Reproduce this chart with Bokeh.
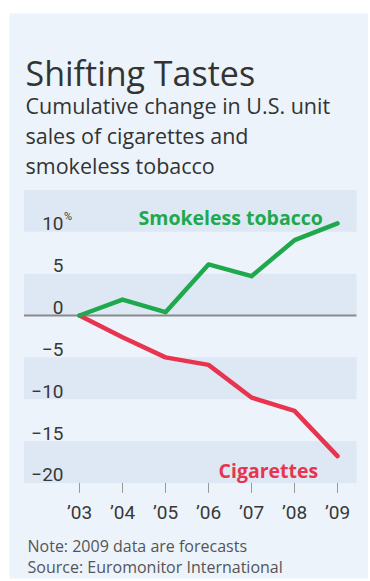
from bokeh.plotting import figure
from bokeh.models import Range1d
from bokeh.core.properties import value
from bokeh.embed import file_html
from bokeh.resources import INLINE

# ---- data ----
years = [2003, 2004, 2005, 2006, 2007, 2008, 2009]
year_labels = ["\u201903", "\u201904", "\u201905", "\u201906", "\u201907", "\u201908", "\u201909"]
smokeless = [0, 1.9, 0.4, 6.1, 4.7, 9.0, 11.0]
cigarettes = [0, -2.6, -5.0, -5.9, -9.8, -11.4, -16.8]
y_ticks = [-20, -15, -10, -5, 0, 5, 10]
y_tick_labels = ["\u221220", "\u221215", "\u221210", "\u22125", "0", "5", "10"]

title = "Shifting Tastes"
subtitle = ["Cumulative change in U.S. unit", "sales of cigarettes and", "smokeless tobacco"]
notes = ["Note: 2009 data are forecasts", "Source: Euromonitor International"]

# ---- style ----
GREEN = "#20a84d"
RED = "#e8344e"
PANEL = "#ecf3fb"
STRIPE = "#dde8f4"
TEXT = "#333333"
TICK_TEXT = "#383838"
TICKF = value("Roboto")
SANS = value("Open Sans")

W, H = 368, 579
PX_X0, PX_PER_YEAR = 79, 43.0
PX_Y0, PX_PER_UNIT = 315, 8.37


def dx(px):
    return years[0] + (px - PX_X0) / PX_PER_YEAR


def dy(py):
    return (PX_Y0 - py) / PX_PER_UNIT


def py_of(v):
    return PX_Y0 - v * PX_PER_UNIT


p = figure(width=W, height=H,
           x_range=Range1d(dx(0), dx(W)), y_range=Range1d(dy(H), dy(0)),
           x_axis_type=None, y_axis_type=None,
           output_backend="svg", toolbar_location=None,
           min_border=0, outline_line_color=None,
           background_fill_color="white", border_fill_color="white")

# panel
p.quad(left=[dx(9)], right=[dx(W + 10)], top=[dy(13)], bottom=[dy(578)],
       fill_color=PANEL, line_color=None)

# stripes
band_lo = y_ticks[::2]
p.quad(left=[dx(23.5)] * len(band_lo), right=[dx(356)] * len(band_lo),
       bottom=band_lo, top=[v + 5 for v in band_lo],
       fill_color=STRIPE, line_color=None)

# zero line
p.segment(x0=[dx(23.5)], x1=[dx(356)], y0=[0], y1=[0], line_color="#8a8a8a", line_width=2)

# x tick marks
p.segment(x0=years, x1=years, y0=[y_ticks[0]] * len(years),
          y1=[dy(py_of(y_ticks[0]) + 10)] * len(years),
          line_color="#9a9a9a", line_width=1)

# series
p.line(years, cigarettes, line_color=RED, line_width=4.5, line_join="round", line_cap="round")
p.line(years, smokeless, line_color=GREEN, line_width=4.5, line_join="round", line_cap="round")

# x tick labels
p.text(x=years, y=[dy(512)] * len(years), text=year_labels,
       text_align="center", text_baseline="alphabetic",
       text_font=TICKF, text_font_size="19px", text_color=TICK_TEXT)

# y tick labels
p.text(x=[dx(63)] * len(y_ticks), y=[dy(py_of(v) - 8) for v in y_ticks], text=y_tick_labels,
       text_align="right", text_baseline="alphabetic",
       text_font=TICKF, text_font_size="19px", text_color=TICK_TEXT)
p.text(x=[dx(63.5)], y=[dy(py_of(y_ticks[-1]) - 8 - 14)], text=["%"],
       text_align="left", text_baseline="top",
       text_font=TICKF, text_font_size="11px", text_color=TICK_TEXT)

# series labels
p.text(x=[dx(138)], y=[dy(217)], text=["Smokeless tobacco"],
       text_align="left", text_baseline="alphabetic",
       text_font=SANS, text_font_style="bold", text_font_size="19.5px", text_color=GREEN)
p.text(x=[dx(218)], y=[dy(470)], text=["Cigarettes"],
       text_align="left", text_baseline="alphabetic",
       text_font=SANS, text_font_style="bold", text_font_size="19.5px", text_color=RED)

# title & subtitle
p.text(x=[dx(25)], y=[dy(72)], text=[title], text_align="left", text_baseline="alphabetic",
       text_font=SANS, text_font_size="34px", text_color=TEXT)
p.text(x=[dx(25)] * 3, y=[dy(105), dy(135), dy(165)], text=subtitle,
       text_align="left", text_baseline="alphabetic",
       text_font=SANS, text_font_size="21.5px", text_color=TEXT)

# notes
p.text(x=[dx(27)] * 2, y=[dy(545), dy(566)], text=notes,
       text_align="left", text_baseline="alphabetic",
       text_font=SANS, text_font_size="16px", text_color="#555555")

open("out.html", "w").write(file_html(p, INLINE))
